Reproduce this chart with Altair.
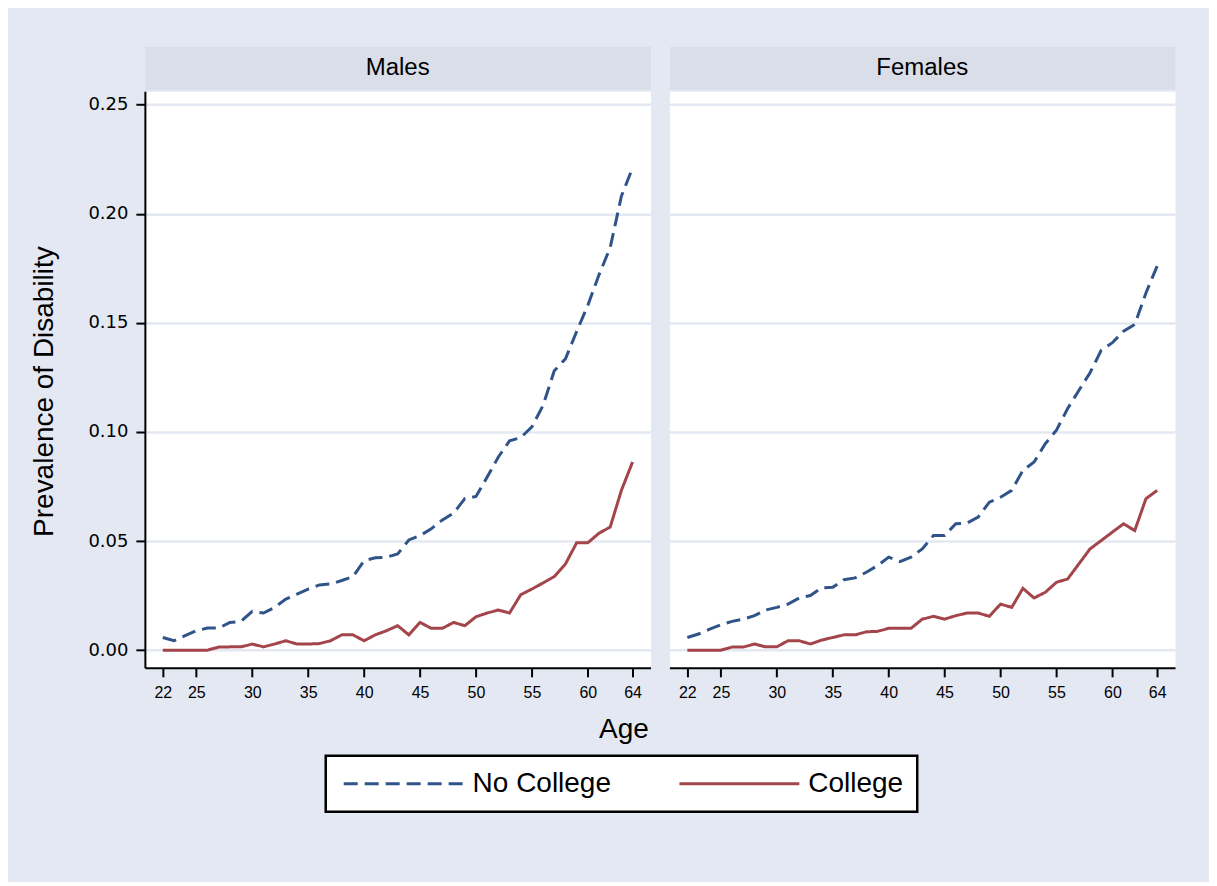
import altair as alt
import pandas as pd

ages = list(range(22, 65))
male_no_college = [0.0058, 0.0043, 0.0066, 0.0089, 0.0101, 0.0101, 0.0127, 0.0132, 0.0178, 0.0170,
                   0.0196, 0.0234, 0.0257, 0.0280, 0.0299, 0.0303, 0.0319, 0.0337, 0.0410, 0.0423,
                   0.0426, 0.0441, 0.0505, 0.0525, 0.0556, 0.0597, 0.0628, 0.0694, 0.0704, 0.0793,
                   0.0885, 0.0959, 0.0974, 0.1023, 0.1122, 0.1280, 0.1335, 0.1460, 0.1580, 0.1720,
                   0.1845, 0.2080, 0.2210]
male_college = [0.0, 0.0, 0.0, 0.0, 0.0, 0.0014, 0.0015, 0.0015, 0.0028, 0.0015,
                0.0028, 0.0043, 0.0028, 0.0028, 0.0030, 0.0043, 0.0070, 0.0070, 0.0043, 0.0070,
                0.0089, 0.0112, 0.0070, 0.0127, 0.0100, 0.0100, 0.0127, 0.0112, 0.0153, 0.0170,
                0.0184, 0.0170, 0.0254, 0.0280, 0.0308, 0.0337, 0.0395, 0.0492, 0.0492, 0.0536,
                0.0564, 0.0732, 0.0862]
female_no_college = [0.0058, 0.0074, 0.0096, 0.0116, 0.0132, 0.0142, 0.0158, 0.0184, 0.0196, 0.0211,
                     0.0239, 0.0250, 0.0285, 0.0288, 0.0323, 0.0331, 0.0357, 0.0387, 0.0426, 0.0406,
                     0.0426, 0.0464, 0.0525, 0.0525, 0.0579, 0.0582, 0.0610, 0.0678, 0.0701, 0.0732,
                     0.0824, 0.0862, 0.0946, 0.1008, 0.1107, 0.1190, 0.1271, 0.1374, 0.1409, 0.1462,
                     0.1493, 0.1637, 0.1760]
female_college = [0.0, 0.0, 0.0, 0.0, 0.0014, 0.0014, 0.0028, 0.0015, 0.0015, 0.0043,
                  0.0043, 0.0028, 0.0046, 0.0058, 0.0070, 0.0070, 0.0084, 0.0086, 0.0100, 0.0100,
                  0.0100, 0.0142, 0.0155, 0.0142, 0.0158, 0.0170, 0.0170, 0.0155, 0.0211, 0.0196,
                  0.0283, 0.0239, 0.0265, 0.0311, 0.0326, 0.0395, 0.0464, 0.0502, 0.0541, 0.0579,
                  0.0548, 0.0694, 0.0732]

panels = ["Males", "Females"]
groups = ["No College", "College"]
x_ticks = [22, 25, 30, 35, 40, 45, 50, 55, 60, 64]
y_ticks = [0.0, 0.05, 0.10, 0.15, 0.20, 0.25]

rows = []
for sex, series in zip(panels, [(male_no_college, male_college), (female_no_college, female_college)]):
    for g, vals in zip(groups, series):
        for a, v in zip(ages, vals):
            rows.append({"sex": sex, "group": g, "age": a, "prev": v})
df = pd.DataFrame(rows)

BG = "#E4E8F2"
HEADER = "#D9DEE9"
GRID = "#E4E8F2"
BLUE = "#30548A"
RED = "#A3454B"
PW, PH, HH = 506, 577, 43
FONT = "Liberation Sans"

legend = alt.Legend(
    title=None, orient="none", direction="horizontal", legendX=181, legendY=710,
    symbolType="M-1,0H11", symbolSize=400, symbolStrokeWidth=3,
    labelFontSize=28, labelFont=FONT, labelColor="black", labelOffset=105,
    columnPadding=62, padding=14, fillColor="white", strokeColor="black",
)
color = alt.Color("group:N", scale=alt.Scale(domain=groups, range=[BLUE, RED]), legend=legend)
dash = alt.StrokeDash("group:N", scale=alt.Scale(domain=groups, range=[[14, 7], [1, 0]]), legend=legend)


def header(sex):
    return alt.Chart(pd.DataFrame({"sex": [sex]})).mark_text(
        fontSize=24, font=FONT, color="black", baseline="middle", align="center"
    ).encode(
        text="sex:N", x=alt.value(PW / 2), y=alt.value(HH / 2)
    ).properties(width=PW, height=HH, view=alt.ViewBackground(fill=HEADER, stroke="transparent"))


def panel(sex, first):
    common = dict(gridColor=GRID, gridWidth=2.5, grid=True, values=y_ticks)
    if first:
        yaxis = alt.Axis(format=".2f", title="Prevalence of Disability", titleFontSize=28,
                         titleFont=FONT, titleFontWeight="normal", titleColor="black",
                         titleX=-86, titleY=300, titleBaseline="bottom",
                         labelFont="DejaVu Sans", labelFontSize=18, labelColor="black", labelPadding=8,
                         tickSize=9, tickWidth=2, tickColor="black",
                         domainColor="black", domainWidth=2, **common)
        xaxis = alt.Axis(values=x_ticks, title="Age", titleFontSize=28, titleFont=FONT,
                         titleFontWeight="normal", titleColor="black", titleX=479, titleY=48,
                         titleBaseline="top", grid=False,
                         labelFont=FONT, labelFontSize=16, labelColor="black", labelPadding=8,
                         tickSize=9, tickWidth=2, tickColor="black", domainColor="black", domainWidth=2)
    else:
        yaxis = alt.Axis(labels=False, ticks=False, domain=False, title=None, **common)
        xaxis = alt.Axis(values=x_ticks, title=None, grid=False,
                         labelFont=FONT, labelFontSize=16, labelColor="black", labelPadding=8,
                         tickSize=9, tickWidth=2, tickColor="black", domainColor="black", domainWidth=2)
    return alt.Chart(df[df["sex"] == sex]).mark_line(strokeWidth=3).encode(
        x=alt.X("age:Q", scale=alt.Scale(domain=[20.4, 65.6], nice=False, zero=False), axis=xaxis),
        y=alt.Y("prev:Q", scale=alt.Scale(domain=[-0.0081, 0.2561], nice=False, zero=False), axis=yaxis),
        color=color,
        strokeDash=dash,
        order="age:Q",
    ).properties(width=PW, height=PH, view=alt.ViewBackground(fill="white", stroke="transparent"))


col_m = alt.vconcat(header("Males"), panel("Males", True), spacing=0)
col_f = alt.vconcat(header("Females"), panel("Females", False), spacing=0)

chart = alt.hconcat(col_m, col_f, spacing=17).properties(
    background=BG,
    padding={"left": 22, "top": 37, "right": 33, "bottom": 68},
).configure(font=FONT).configure_view(stroke="transparent").configure_legend(strokeWidth=2.5)

chart.save("out.html", embed_options={"renderer": "svg", "actions": False})
